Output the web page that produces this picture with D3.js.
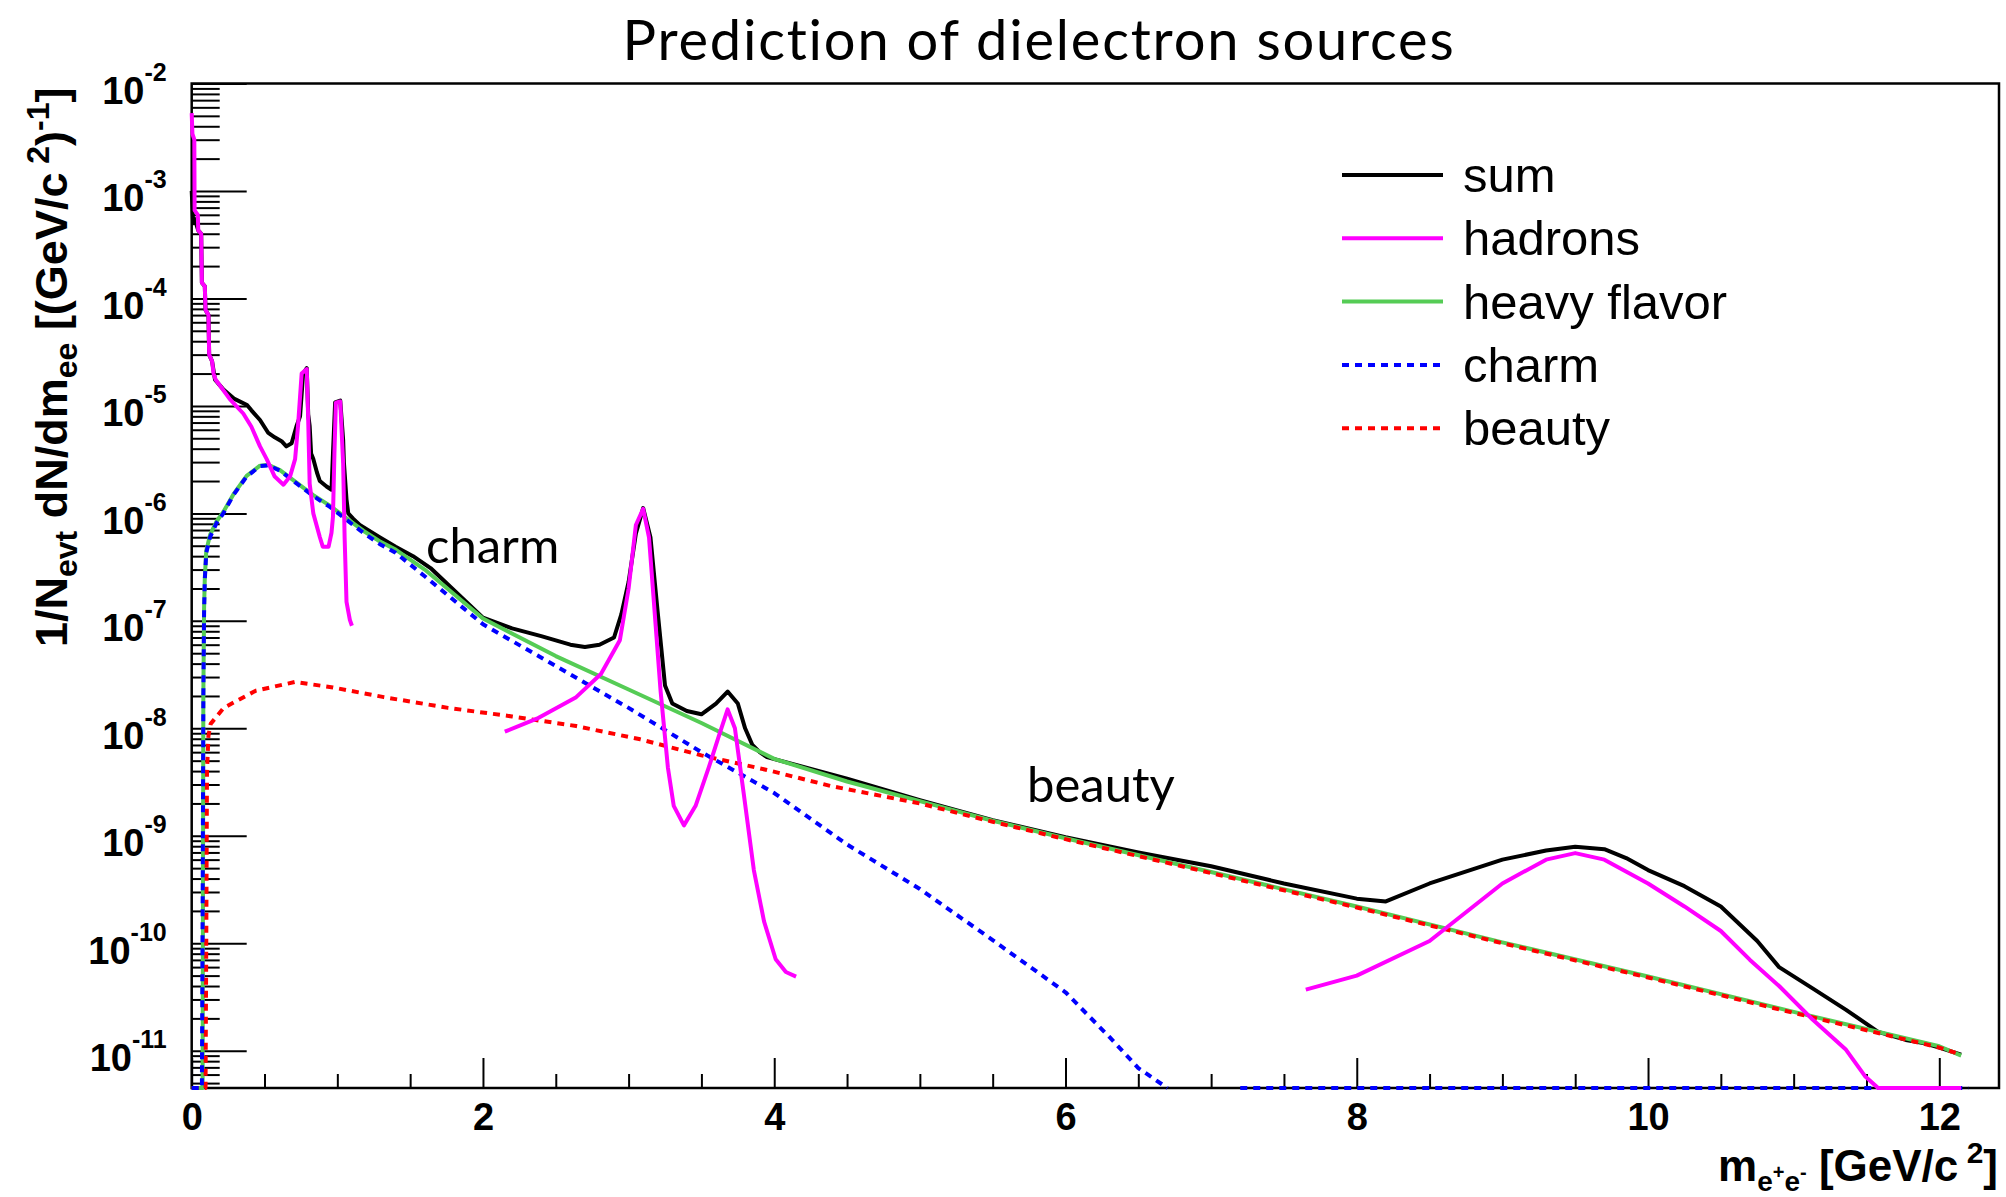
<!DOCTYPE html>
<html>
<head>
<meta charset="utf-8">
<style>
    body { margin: 0; background: #fff; }
    .lab { font-family: "Liberation Sans", Arial, Helvetica, sans-serif; font-weight: bold; }
    .leg { font-family: "Liberation Sans", Arial, Helvetica, sans-serif; }
    .gill { font-family: Lato, "Open Sans", sans-serif; }
</style>
<script src="https://cdn.jsdelivr.net/npm/d3@7"></script>
</head>
<body>
<svg id="chart"></svg>
<script>

// ---- data: [mass GeV/c^2, 1/N dN/dm] ----
const sumPts = [[0.0,1.0e-3],[0.01,5e-4],[0.02,5.5e-4],[0.045,4.3e-4],[0.065,4.0e-4],[0.07,1.4e-4],[0.09,1.3e-4],
    [0.095,7.8e-5],[0.115,7.0e-5],[0.12,3.0e-5],[0.14,2.6e-5],[0.16,1.75e-5],[0.22,1.41e-5],[0.29,1.17e-5],
    [0.38,1.02e-5],[0.41,9.1e-6],[0.469,7.4e-6],[0.526,5.6e-6],[0.57,5.1e-6],[0.617,4.7e-6],[0.65,4.2e-6],
    [0.686,4.5e-6],[0.72,6.5e-6],[0.744,8.0e-6],[0.765,2.0e-5],[0.79,2.25e-5],[0.80,8.3e-6],[0.81,6.5e-6],
    [0.82,3.6e-6],[0.835,3.2e-6],[0.86,2.4e-6],[0.88,2.0e-6],[0.926,1.78e-6],[0.96,1.66e-6],[0.97,3.6e-6],
    [0.985,1.08e-5],[1.02,1.12e-5],[1.04,4.8e-6],[1.045,3.0e-6],[1.063,1.35e-6],[1.075,1.0e-6],[1.11,8.9e-7],
    [1.154,7.8e-7],[1.29,6.0e-7],[1.40,4.9e-7],[1.52,4.0e-7],[1.64,3.1e-7],[2.0,1.07e-7],[2.2,8.5e-8],
    [2.4,7.2e-8],[2.6,6.0e-8],[2.7,5.7e-8],[2.8,6.0e-8],[2.9,7.0e-8],[2.95,1.15e-7],[3.0,2.3e-7],[3.05,6.5e-7],
    [3.1,1.12e-6],[3.15,6.0e-7],[3.2,1.2e-7],[3.25,2.5e-8],[3.3,1.7e-8],[3.4,1.45e-8],[3.5,1.35e-8],
    [3.6,1.7e-8],[3.68,2.2e-8],[3.75,1.7e-8],[3.8,1.0e-8],[3.85,7.0e-9],[3.9,6.0e-9],[3.95,5.4e-9],
    [4.5,3.4e-9],[5.0,2.15e-9],[5.5,1.4e-9],[6.0,9.7e-10],[6.5,7.0e-10],[7.0,5.2e-10],[7.5,3.6e-10],
    [8.0,2.6e-10],[8.2,2.45e-10],[8.5,3.6e-10],[8.8,4.9e-10],[9.0,6.0e-10],[9.3,7.3e-10],[9.5,7.9e-10],
    [9.7,7.5e-10],[9.85,6.2e-10],[10.0,4.8e-10],[10.25,3.4e-10],[10.5,2.2e-10],[10.75,1.05e-10],
    [10.9,6.0e-11],[11.13,3.8e-11],[11.36,2.4e-11],[11.58,1.5e-11],[11.77,1.26e-11],[11.9,1.17e-11],
    [12.0,1.07e-11],[12.15,9.2e-12]];

const hadronLow = [[0.0,5.3e-3],[0.005,3.4e-3],[0.018,3.0e-3],[0.02,6.6e-4],[0.042,6.0e-4],[0.045,4.3e-4],
    [0.065,4.0e-4],[0.07,1.4e-4],[0.09,1.3e-4],[0.095,7.8e-5],[0.115,7.0e-5],[0.12,3.0e-5],[0.14,2.6e-5],
    [0.15,2.0e-5],[0.165,1.75e-5],[0.263,1.15e-5],[0.354,8.5e-6],[0.41,6.4e-6],[0.469,4.2e-6],[0.515,3.2e-6],
    [0.57,2.2e-6],[0.63,1.85e-6],[0.675,2.2e-6],[0.71,3.2e-6],[0.73,6.5e-6],[0.755,2.0e-5],[0.79,2.2e-5],
    [0.80,7.4e-6],[0.81,1.9e-6],[0.835,1.0e-6],[0.88,6.0e-7],[0.90,4.9e-7],[0.94,4.9e-7],[0.96,6.6e-7],
    [0.97,9.3e-7],[0.98,3.6e-6],[0.99,1.07e-5],[1.02,1.1e-5],[1.04,2.9e-6],[1.05,6.0e-7],[1.063,1.5e-7],
    [1.086,1.02e-7],[1.10,9e-8]];

const hadronJpsi = [[2.15,9.3e-9],[2.37,1.23e-8],[2.64,1.95e-8],[2.81,3.2e-8],[2.94,6.6e-8],[3.0,2.0e-7],
    [3.05,7.8e-7],[3.10,1.1e-6],[3.14,6.0e-7],[3.18,1.15e-7],[3.22,2.2e-8],[3.27,4.3e-9],[3.31,1.9e-9],
    [3.38,1.25e-9],[3.46,1.9e-9],[3.55,4.3e-9],[3.62,8.5e-9],[3.68,1.5e-8],[3.73,1.0e-8],[3.79,2.5e-9],
    [3.86,4.8e-10],[3.93,1.6e-10],[4.01,7.1e-11],[4.08,5.4e-11],[4.15,4.9e-11]];

const hadronUps = [[7.65,3.7e-11],[8.0,5.0e-11],[8.5,1.05e-10],[8.8,2.2e-10],[9.0,3.6e-10],[9.3,6.0e-10],
    [9.5,6.9e-10],[9.7,6.0e-10],[10.0,3.6e-10],[10.25,2.2e-10],[10.5,1.3e-10],[10.7,7.0e-11],[10.9,4.0e-11],
    [11.13,1.95e-11],[11.36,1.02e-11],[11.49,5.8e-12],[11.58,4.5e-12],[12.15,0]];

const heavyPts = [[0.0,0],[0.075,0],[0.08,2e-8],[0.085,1.3e-7],[0.09,2.5e-7],[0.10,4.5e-7],[0.126,6.3e-7],
    [0.17,8.4e-7],[0.217,1.03e-6],[0.286,1.5e-6],[0.377,2.23e-6],[0.469,2.78e-6],[0.526,2.83e-6],
    [0.606,2.53e-6],[0.72,1.93e-6],[0.835,1.48e-6],[0.949,1.18e-6],[1.063,9.0e-7],[1.178,6.9e-7],
    [1.29,5.5e-7],[1.40,4.6e-7],[1.6,3.0e-7],[2.0,1.05e-7],[2.5,4.7e-8],[3.0,2.3e-8],[3.5,1.12e-8],
    [4.0,5.2e-9],[4.5,3.2e-9],[5.0,2.1e-9],[5.5,1.38e-9],[6.0,9.5e-10],[7.0,4.6e-10],[8.0,2.2e-10],
    [9.0,1.02e-10],[10.0,4.9e-11],[11.0,2.3e-11],[12.0,1.1e-11],[12.15,9.0e-12]];

const charmPts = [[0.0,0],[0.07,0],[0.075,2e-10],[0.08,2e-8],[0.085,1.2e-7],[0.09,2.4e-7],[0.10,4.3e-7],
    [0.126,6.0e-7],[0.17,8.1e-7],[0.217,1.0e-6],[0.286,1.48e-6],[0.377,2.2e-6],[0.469,2.75e-6],[0.526,2.8e-6],
    [0.606,2.5e-6],[0.72,1.9e-6],[0.835,1.45e-6],[0.949,1.15e-6],[1.063,8.7e-7],[1.178,6.6e-7],[1.29,5.2e-7],
    [1.40,4.3e-7],[1.6,2.6e-7],[2.0,9.3e-8],[2.5,3.8e-8],[3.0,1.55e-8],[3.5,6.0e-9],[4.0,2.5e-9],
    [4.5,8.3e-10],[5.0,3.2e-10],[5.5,1.07e-10],[6.0,3.5e-11],[6.3,1.35e-11],[6.5,6.9e-12],[6.7,0]];
const charmTail = [[7.2,0],[12.2,0]];

const beautyPts = [[0.0,0],[0.095,0],[0.1,1e-10],[0.105,4e-9],[0.115,8.5e-9],[0.13,1.1e-8],[0.22,1.55e-8],
    [0.44,2.24e-8],[0.71,2.7e-8],[0.97,2.4e-8],[1.32,1.95e-8],[1.76,1.55e-8],[2.2,1.29e-8],[2.64,1.05e-8],
    [3.08,7.9e-9],[3.5,5.6e-9],[3.95,4.1e-9],[4.39,2.9e-9],[5.0,2.0e-9],[5.5,1.35e-9],[6.0,9.3e-10],
    [7.0,4.5e-10],[8.0,2.15e-10],[9.0,1.0e-10],[10.0,4.8e-11],[11.0,2.25e-11],[12.0,1.07e-11],[12.15,9.2e-12]];

const xMajor = [0, 2, 4, 6, 8, 10, 12];
const yExponents = [-2, -3, -4, -5, -6, -7, -8, -9, -10, -11];
const legendNames = ["sum", "hadrons", "heavy flavor", "charm", "beauty"];

// ---- layout ----
const width = 2006, height = 1197;
const margin = { top: 83.5, right: 7, bottom: 109, left: 191.7 };
const yMin = 4.5e-12, yMax = 1e-2, xMax = 12.41;
const colors = { sum: "#000000", hadrons: "#ff00ff", heavy: "#55cc55", charm: "#0000ff", beauty: "#ff0000" };
const dash = "7,6";

let svg = d3.select("#chart").attr("width", width).attr("height", height);

let x = d3.scaleLinear().domain([0, xMax]).range([margin.left, width - margin.right]);
let y = d3.scaleLog().domain([yMin, yMax]).range([height - margin.bottom, margin.top]);
let y0 = height - margin.bottom;

// title
svg.append("text").attr("class", "gill")
    .attr("x", 1039).attr("y", 60)
    .attr("text-anchor", "middle").attr("font-size", 56)
    .attr("letter-spacing", 1.8)
    .text("Prediction of dielectron sources");

// frame
svg.append("rect")
    .attr("x", margin.left).attr("y", margin.top)
    .attr("width", width - margin.right - margin.left)
    .attr("height", y0 - margin.top)
    .attr("fill", "none").attr("stroke", "#000").attr("stroke-width", 2.5);

// x axis
let xMinor = d3.range(0, xMax, 0.5).filter(v => v % 2 !== 0);
svg.append("g").attr("transform", `translate(0,${y0})`)
    .call(d3.axisBottom(x).tickValues(xMinor).tickSize(-14).tickFormat(""));
svg.append("g").attr("class", "lab").attr("transform", `translate(0,${y0})`)
    .call(d3.axisBottom(x).tickValues(xMajor).tickSize(-30).tickPadding(15).tickFormat(d3.format("d")))
    .selectAll("text").attr("font-size", 38).attr("fill", "#000");

// y axis
let isPow10 = v => Math.abs(Math.log10(v) - Math.round(Math.log10(v))) < 1e-6;
let yMinor = y.ticks().filter(v => !isPow10(v));
svg.append("g").attr("transform", `translate(${margin.left},0)`)
    .call(d3.axisLeft(y).tickValues(yMinor).tickSize(-28).tickFormat(""));
let yAx = svg.append("g").attr("class", "lab").attr("transform", `translate(${margin.left},0)`)
    .call(d3.axisLeft(y).tickValues(yExponents.map(e => Math.pow(10, e))).tickSize(-55).tickFormat(""));

yAx.selectAll(".tick").each(function(d) {
    let e = Math.round(Math.log10(d));
    let t = d3.select(this).append("text")
        .attr("x", -25).attr("y", 0).attr("text-anchor", "end").attr("fill", "#000")
        .attr("font-size", 38);
    t.append("tspan").attr("dy", 20).text("10");
    t.append("tspan").attr("font-size", 25).attr("dy", -23).text(String(e));
});

svg.selectAll(".domain").remove();
svg.selectAll(".tick line").attr("stroke", "#000").attr("stroke-width", 2);

// axis titles
let yt = svg.append("text").attr("class", "lab")
    .attr("transform", "translate(67,647) rotate(-90)")
    .attr("font-size", 45);
yt.append("tspan").text("1/N");
yt.append("tspan").attr("font-size", 32).attr("dy", 10).text("evt");
yt.append("tspan").attr("dy", -10).text(" dN/dm");
yt.append("tspan").attr("font-size", 32).attr("dy", 10).text("ee");
yt.append("tspan").attr("dy", -10).text(" [(GeV/c");
yt.append("tspan").attr("font-size", 32).attr("dy", -18).text(" 2");
yt.append("tspan").attr("dy", 18).text(")");
yt.append("tspan").attr("font-size", 32).attr("dy", -18).text("-1");
yt.append("tspan").attr("dy", 18).text("]");

let xt = svg.append("text").attr("class", "lab")
    .attr("x", 1998).attr("y", 1181).attr("text-anchor", "end")
    .attr("font-size", 44);
xt.append("tspan").text("m");
xt.append("tspan").attr("font-size", 28).attr("dy", 10).text("e");
xt.append("tspan").attr("font-size", 20).attr("dy", -12).text("+");
xt.append("tspan").attr("font-size", 28).attr("dy", 12).text("e");
xt.append("tspan").attr("font-size", 20).attr("dy", -12).text("-");
xt.append("tspan").attr("dy", 2).text(" [GeV/c");
xt.append("tspan").attr("font-size", 30).attr("dy", -18).text(" 2");
xt.append("tspan").attr("dy", 18).text("]");

// curves
let line = d3.line()
    .x(d => x(d[0]))
    .y(d => y(Math.max(d[1], yMin)));

function drawCurve(pts, color, dashed) {
    svg.append("path").datum(pts)
        .attr("d", line)
        .attr("fill", "none")
        .attr("stroke", color)
        .attr("stroke-width", 4)
        .attr("stroke-linejoin", "round")
        .attr("stroke-dasharray", dashed ? dash : null);
}

drawCurve(sumPts, colors.sum, false);
drawCurve(heavyPts, colors.heavy, false);
drawCurve(beautyPts, colors.beauty, true);
drawCurve(charmPts, colors.charm, true);
drawCurve(charmTail, colors.charm, true);
drawCurve(hadronLow, colors.hadrons, false);
drawCurve(hadronJpsi, colors.hadrons, false);
drawCurve(hadronUps, colors.hadrons, false);

// annotations
svg.append("text").attr("class", "gill").attr("x", 426).attr("y", 563).attr("font-size", 49).text("charm");
svg.append("text").attr("class", "gill").attr("x", 1027).attr("y", 802).attr("font-size", 49).text("beauty");

// legend
let legendColors = [colors.sum, colors.hadrons, colors.heavy, colors.charm, colors.beauty];
let legendDashed = [false, false, false, true, true];
let leg = svg.append("g").attr("transform", "translate(1342,175)");
legendNames.forEach((name, i) => {
    let row = leg.append("g").attr("transform", `translate(0,${i * 63.3})`);
    row.append("line").attr("x1", 0).attr("x2", 101).attr("y1", 0).attr("y2", 0)
        .attr("stroke", legendColors[i]).attr("stroke-width", 4)
        .attr("stroke-dasharray", legendDashed[i] ? dash : null);
    row.append("text").attr("class", "leg").attr("x", 121).attr("y", 17)
        .attr("font-size", 49).text(name);
});

</script>
</body>
</html>
